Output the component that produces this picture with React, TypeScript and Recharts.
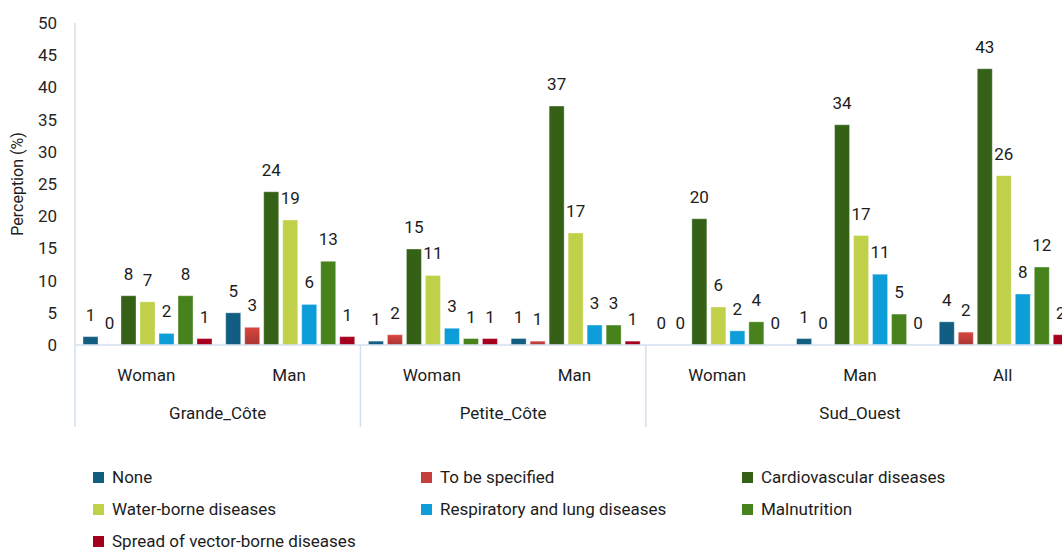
import { Bar, BarChart, LabelList, XAxis, YAxis } from "recharts";

// categories (two-level x axis)
const subgroups = ["Woman", "Man", "Woman", "Man", "Woman", "Man", "All"];
const regions = [
  "Grande_Côte",
  "Grande_Côte",
  "Petite_Côte",
  "Petite_Côte",
  "Sud_Ouest",
  "Sud_Ouest",
  "Sud_Ouest",
];

// perception (%) per category
const none = [1.3, 5.0, 0.6, 1.0, 0, 1.0, 3.6];
const toBeSpecified = [0, 2.75, 1.6, 0.6, 0, 0, 2.0];
const cardiovascular = [7.65, 23.8, 14.9, 37.1, 19.6, 34.2, 42.9];
const waterBorne = [6.7, 19.4, 10.8, 17.4, 5.9, 17.0, 26.3];
const respiratory = [1.8, 6.3, 2.6, 3.1, 2.2, 11.0, 7.9];
const malnutrition = [7.65, 13.0, 1.0, 3.1, 3.6, 4.8, 12.1];
const vectorBorne = [1.0, 1.3, 1.0, 0.6, 0, 0, 1.6];

const yTicks = [0, 5, 10, 15, 20, 25, 30, 35, 40, 45, 50];

const series = [
  { key: "none", name: "None", color: "#125d82", values: none },
  { key: "tbs", name: "To be specified", color: "url(#tbsFill)", swatch: "#c5403c", values: toBeSpecified },
  { key: "cardio", name: "Cardiovascular diseases", color: "#346116", values: cardiovascular },
  { key: "water", name: "Water-borne diseases", color: "#c0d048", values: waterBorne },
  { key: "resp", name: "Respiratory and lung diseases", color: "#0d9dd9", values: respiratory },
  { key: "maln", name: "Malnutrition", color: "#47821c", values: malnutrition },
  { key: "vector", name: "Spread of vector-borne diseases", color: "#a6001e", values: vectorBorne },
];

const rows = subgroups.map((sub, i) => {
  const row: Record<string, string | number> = { id: `${regions[i]}|${sub}|${i}` };
  series.forEach((s) => {
    row[s.key] = s.values[i];
  });
  return row;
});

const CHART_W = 1080;
const CHART_H = 440;
const MARGIN = { top: 23, right: 6, bottom: 13, left: 0 };
const Y_W = 75;
const PLOT_W = CHART_W - MARGIN.left - MARGIN.right - Y_W;
const SUB_H = 40;
const REGION_H = 42;
const SEP = "#d3dff0";
const TEXT = "#1c1c1c";
const FS = 17;

function SubTick(props: any) {
  const { x, y, index } = props;
  return (
    <text x={x} y={y + 36} textAnchor="middle" fontSize={FS} fill={TEXT}>
      {subgroups[index]}
    </text>
  );
}

function RegionTick(props: any) {
  const { x, y, index } = props;
  const band = PLOT_W / rows.length;
  const left = x - band / 2;
  const region = regions[index];
  const isFirst = index === 0 || regions[index - 1] !== region;
  const isLast = index === rows.length - 1;
  const span = regions.filter((r) => r === region).length;
  return (
    <g>
      {isFirst && (
        <>
          <line x1={left} x2={left} y1={y - SUB_H} y2={y + REGION_H} stroke={SEP} strokeWidth={1.5} />
          <text x={left + (span * band) / 2} y={y + 34} textAnchor="middle" fontSize={FS} fill={TEXT}>
            {region}
          </text>
        </>
      )}
      {isLast && (
        <line x1={left + band} x2={left + band} y1={y - SUB_H} y2={y + REGION_H} stroke={SEP} strokeWidth={1.5} />
      )}
    </g>
  );
}

export default function App() {
  return (
    <div
      style={{
        position: "fixed",
        left: 0,
        top: 0,
        width: 1062,
        height: 551,
        overflow: "hidden",
        background: "#ffffff",
        fontFamily: "Roboto, 'Noto Sans', sans-serif",
      }}
    >
      <BarChart
        width={CHART_W}
        height={CHART_H}
        data={rows}
        margin={MARGIN}
        barCategoryGap={8}
        barGap={4}
      >
        <defs>
          <linearGradient id="tbsFill" x1="0" y1="0" x2="0" y2="1">
            <stop offset="0%" stopColor="#d9473f" />
            <stop offset="100%" stopColor="#a83532" />
          </linearGradient>
        </defs>
        <XAxis
          dataKey="id"
          height={SUB_H}
          interval={0}
          tickLine={false}
          tickSize={0}
          tickMargin={0}
          axisLine={{ stroke: SEP, strokeWidth: 1.5 }}
          tick={<SubTick />}
        />
        <XAxis
          dataKey="id"
          xAxisId="region"
          height={REGION_H}
          interval={0}
          tickLine={false}
          tickSize={0}
          tickMargin={0}
          axisLine={false}
          tick={<RegionTick />}
        />
        <YAxis
          domain={[0, 50]}
          ticks={yTicks}
          interval={0}
          width={Y_W}
          tickLine={false}
          tickSize={0}
          tickMargin={18}
          axisLine={{ stroke: "#d9dee5", strokeWidth: 1.5 }}
          tick={{ fontSize: FS, fill: "#262626" }}
          label={{
            value: "Perception (%)",
            angle: -90,
            position: "center",
            dx: -20,
            fontSize: 16,
            fill: TEXT,
          }}
        />
        {series.map((s) => (
          <Bar
            key={s.key}
            dataKey={s.key}
            name={s.name}
            fill={s.color}
            stroke="#ffffff"
            strokeOpacity={0.35}
            minPointSize={0.01}
            isAnimationActive={false}
          >
            <LabelList
              dataKey={s.key}
              position="top"
              offset={16}
              fontSize={FS}
              fill={TEXT}
              formatter={(v: any) => String(Math.round(Number(v)))}
            />
          </Bar>
        ))}
      </BarChart>
      <div
        style={{
          position: "absolute",
          left: 93,
          top: 461,
          display: "grid",
          gridTemplateColumns: "328px 321px 300px",
          fontSize: FS,
          color: TEXT,
        }}
      >
        {series.map((s) => (
          <div key={s.key} style={{ display: "flex", alignItems: "center", height: 32 }}>
            <span
              style={{
                display: "inline-block",
                width: 11,
                height: 11,
                marginRight: 8,
                background: s.swatch ?? s.color,
              }}
            />
            <span>{s.name}</span>
          </div>
        ))}
      </div>
    </div>
  );
}
